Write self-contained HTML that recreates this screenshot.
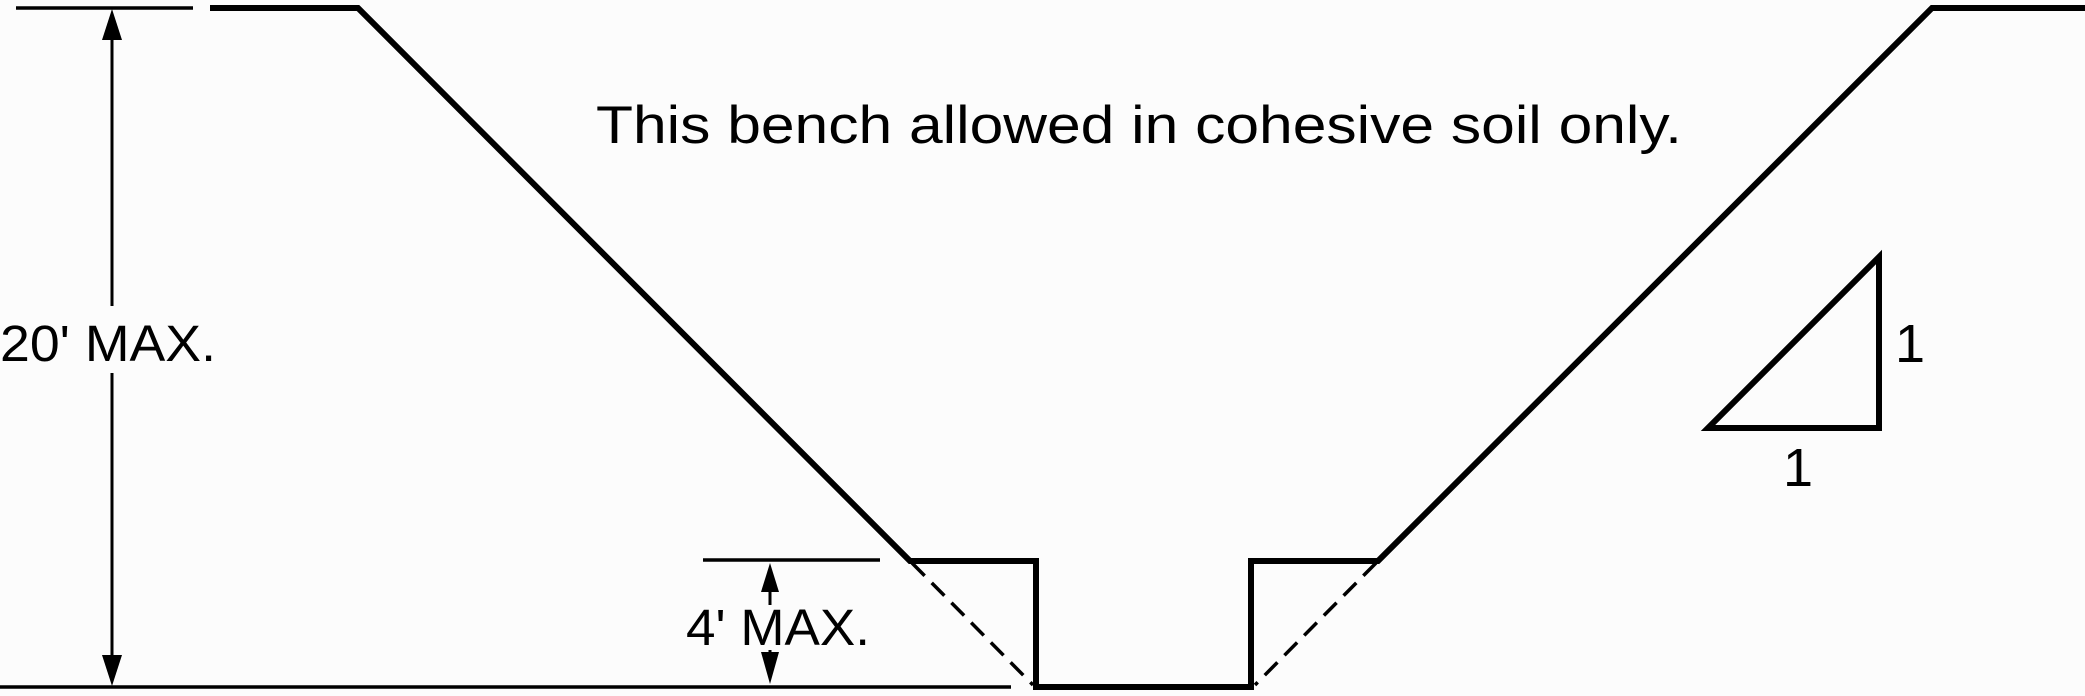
<!DOCTYPE html>
<html><head><style>
html,body{margin:0;padding:0;background:#fcfcfc;}
svg{display:block;}
text{font-family:"Liberation Sans",sans-serif;fill:#000;}
</style></head><body>
<svg width="2085" height="696" viewBox="0 0 2085 696" xmlns="http://www.w3.org/2000/svg">
<g fill="none" stroke="#000" stroke-linejoin="miter">
<polyline points="210,8 358,8 910,561 1036,561 1036,687 1251,687 1251,561 1378,561 1932,8 2085,8" stroke-width="6"/>
<line x1="912" y1="563" x2="1033" y2="685" stroke-width="3.5" stroke-dasharray="18,10"/>
<line x1="1376" y1="563" x2="1255" y2="685" stroke-width="3.5" stroke-dasharray="18,10"/>
<line x1="16" y1="8" x2="193" y2="8" stroke-width="3.5"/>
<line x1="0" y1="687" x2="1011" y2="687" stroke-width="3.5"/>
<line x1="703" y1="560" x2="880" y2="560" stroke-width="3.5"/>
<line x1="112" y1="30" x2="112" y2="306" stroke-width="3"/>
<line x1="112" y1="373" x2="112" y2="665" stroke-width="3"/>
<line x1="770" y1="580" x2="770" y2="605" stroke-width="3"/>
<line x1="770" y1="650" x2="770" y2="670" stroke-width="3"/>
<polygon points="1708,428 1879,428 1879,257" stroke-width="6"/>
</g>
<g fill="#000">
<polygon points="112,9 102,40 122,40"/>
<polygon points="112,686 102,655 122,655"/>
<polygon points="770,563 761,592 779,592"/>
<polygon points="770,684 761,652 779,652"/>
</g>
<text x="596" y="143" font-size="53" textLength="1086" lengthAdjust="spacingAndGlyphs">This bench allowed in cohesive soil only.</text>
<text x="0" y="361" font-size="51" textLength="216" lengthAdjust="spacingAndGlyphs">20' MAX.</text>
<text x="686" y="645" font-size="51" textLength="184" lengthAdjust="spacingAndGlyphs">4' MAX.</text>
<text x="1895" y="362" font-size="54">1</text>
<text x="1783" y="486" font-size="54">1</text>
</svg>
</body></html>
